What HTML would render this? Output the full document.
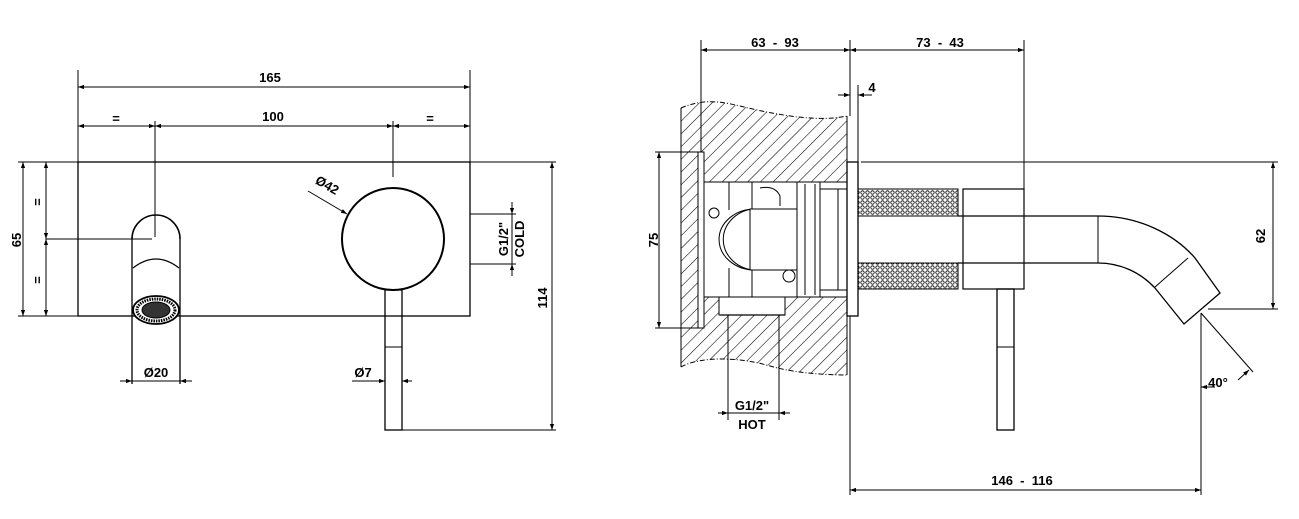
<!DOCTYPE html>
<html><head><meta charset="utf-8"><style>
html,body{margin:0;padding:0;background:#fff}
svg{display:block}
text{font-family:"Liberation Sans",Arial,sans-serif;font-weight:bold;font-size:13px;fill:#000;white-space:pre}
</style></head><body>
<svg width="1299" height="519" viewBox="0 0 1299 519" xmlns="http://www.w3.org/2000/svg">
<defs>
<marker id="a" viewBox="0 0 10 10" refX="10" refY="5" markerWidth="9" markerHeight="6" orient="auto-start-reverse" markerUnits="userSpaceOnUse"><path d="M0,1.5 L10,5 L0,8.5z" fill="#000"/></marker>
<pattern id="h" width="9" height="9" patternUnits="userSpaceOnUse" patternTransform="rotate(45)"><line x1="0" y1="0" x2="0" y2="9" stroke="#000" stroke-width="1.1"/></pattern>
<pattern id="d" width="5" height="5" patternUnits="userSpaceOnUse"><circle cx="2.5" cy="2.5" r="1.7" fill="none" stroke="#000" stroke-width="0.8"/></pattern>
</defs>
<g fill="none" stroke="#000" stroke-width="1">
<!-- LEFT VIEW -->
<line x1="78" y1="70" x2="78" y2="316"/>
<line x1="470" y1="70" x2="470" y2="162"/>
<line x1="78" y1="87" x2="470" y2="87" marker-start="url(#a)" marker-end="url(#a)"/>
<line x1="78" y1="126" x2="155" y2="126" marker-start="url(#a)" marker-end="url(#a)"/>
<line x1="155" y1="126" x2="393" y2="126" marker-start="url(#a)" marker-end="url(#a)"/>
<line x1="393" y1="126" x2="470" y2="126" marker-start="url(#a)" marker-end="url(#a)"/>
<line x1="155" y1="121" x2="155" y2="237"/>
<line x1="393" y1="121" x2="393" y2="177"/>
<rect x="78" y="162" width="392" height="154" stroke-width="1.3"/>
<line x1="18" y1="162" x2="78" y2="162"/>
<line x1="470" y1="162" x2="556" y2="162"/>
<line x1="18" y1="316" x2="78" y2="316"/>
<line x1="23" y1="162" x2="23" y2="316" marker-start="url(#a)" marker-end="url(#a)"/>
<line x1="46" y1="162" x2="46" y2="239" marker-start="url(#a)" marker-end="url(#a)"/>
<line x1="46" y1="239" x2="46" y2="316" marker-start="url(#a)" marker-end="url(#a)"/>
<line x1="46" y1="239" x2="152" y2="239"/>
<!-- spout -->
<path d="M132,239 A24,24 0 0 1 180,239" stroke-width="1.6"/>
<line x1="132" y1="239" x2="132" y2="384" stroke-width="1.3"/>
<line x1="180" y1="239" x2="180" y2="384" stroke-width="1.3"/>
<path d="M133,268 Q156,250 179,268" stroke-width="1.3"/>
<ellipse cx="156" cy="310" rx="23" ry="14" stroke-width="1.8" fill="#fff"/>
<ellipse cx="156" cy="310" rx="19" ry="11" stroke-width="3" stroke-dasharray="1.5 1"/>
<ellipse cx="156" cy="310" rx="14" ry="8" stroke-width="1" fill="#333"/>
<line x1="120" y1="381" x2="132" y2="381" marker-end="url(#a)"/>
<line x1="132" y1="381" x2="180" y2="381"/>
<line x1="192" y1="381" x2="180" y2="381" marker-end="url(#a)"/>
<!-- handle -->
<circle cx="393" cy="239" r="51" stroke-width="2"/>
<line x1="308" y1="191" x2="347" y2="214" marker-end="url(#a)"/>
<rect x="385" y="290" width="17" height="140" stroke-width="1.3"/>
<line x1="385" y1="347" x2="402" y2="347"/>
<line x1="352" y1="381" x2="385" y2="381" marker-end="url(#a)"/>
<line x1="412" y1="381" x2="402" y2="381" marker-end="url(#a)"/>
<line x1="402" y1="430" x2="556" y2="430"/>
<line x1="552" y1="162" x2="552" y2="430" marker-start="url(#a)" marker-end="url(#a)"/>
<line x1="470" y1="214" x2="516" y2="214"/>
<line x1="470" y1="264" x2="516" y2="264"/>
<line x1="512" y1="202" x2="512" y2="214" marker-end="url(#a)"/>
<line x1="512" y1="214" x2="512" y2="264"/>
<line x1="512" y1="276" x2="512" y2="264" marker-end="url(#a)"/>

<!-- RIGHT VIEW -->
<path d="M681,108 C700,100 715,100 740,106 C780,116 820,122 847,116 L847,375 C820,375 790,372 770,366 C740,357 700,356 681,367 Z" fill="url(#h)" stroke="none"/>
<path d="M681,108 C700,100 715,100 740,106 C780,116 820,122 847,116" stroke-dasharray="5 2 1 2"/>
<path d="M681,367 C700,356 740,357 770,366 C790,372 820,375 847,375" stroke-dasharray="5 2 1 2"/>
<line x1="681" y1="108" x2="681" y2="367"/>
<line x1="847" y1="116" x2="847" y2="375"/>
<rect x="698" y="152" width="6" height="176" fill="#fff"/>
<rect x="704" y="182" width="143" height="115" fill="#fff"/>
<rect x="719" y="297" width="66" height="18" fill="#fff"/>
<!-- interior -->
<path d="M704,182 H752 V297 H704"/>
<line x1="729" y1="182" x2="729" y2="210"/>
<line x1="729" y1="268" x2="729" y2="297"/>
<path d="M752,209 A35,31 0 0 0 752,270"/>
<path d="M755,209 A33,28 0 0 0 755,270"/>
<rect x="750" y="209" width="47" height="61" fill="#fff"/>
<circle cx="714" cy="213" r="5"/>
<circle cx="789" cy="276" r="6"/>
<path d="M760,188 Q775,185 780,196 V206"/>
<rect x="797" y="182" width="23" height="115"/>
<line x1="805" y1="184" x2="805" y2="295"/>
<line x1="815" y1="184" x2="815" y2="295"/>
<rect x="820" y="189" width="27" height="101"/>
<line x1="838" y1="189" x2="838" y2="290"/>
<line x1="720" y1="315" x2="785" y2="315" stroke-width="1.3"/>
<!-- plate -->
<rect x="847" y="162" width="11" height="154" fill="#fff" stroke-width="1.3"/>
<!-- knurls -->
<rect x="858" y="189" width="100" height="27" fill="url(#d)" stroke-width="1"/>
<rect x="858" y="263" width="100" height="26" fill="url(#d)" stroke-width="1"/>
<rect x="963" y="189" width="61" height="100" stroke-width="1.2"/>
<line x1="958" y1="216" x2="1098" y2="216" stroke-width="1.2"/>
<line x1="958" y1="263" x2="1098" y2="263" stroke-width="1.2"/>
<line x1="1098" y1="216" x2="1098" y2="263"/>
<path d="M1098,216 C1140,216 1175,235 1195,258 L1220,293 L1184,324 L1155,288 C1140,272 1120,263 1098,263" stroke-width="1.3"/>
<line x1="1188" y1="258" x2="1155" y2="287"/>
<!-- lever -->
<rect x="997" y="289" width="17" height="141" stroke-width="1.3"/>
<line x1="997" y1="347" x2="1014" y2="347"/>
<!-- dims -->
<line x1="701" y1="40" x2="701" y2="152"/>
<line x1="850" y1="40" x2="850" y2="116"/>
<line x1="850" y1="316" x2="850" y2="495"/>
<line x1="1024" y1="40" x2="1024" y2="189"/>
<line x1="701" y1="50" x2="850" y2="50" marker-start="url(#a)" marker-end="url(#a)"/>
<line x1="850" y1="50" x2="1024" y2="50" marker-start="url(#a)" marker-end="url(#a)"/>
<line x1="858" y1="85" x2="858" y2="162"/>
<line x1="838" y1="95" x2="850" y2="95" marker-end="url(#a)"/>
<line x1="872" y1="95" x2="858" y2="95" marker-end="url(#a)"/>
<line x1="655" y1="152" x2="704" y2="152"/>
<line x1="655" y1="328" x2="704" y2="328"/>
<line x1="659" y1="152" x2="659" y2="328" marker-start="url(#a)" marker-end="url(#a)"/>
<line x1="728" y1="315" x2="728" y2="420"/>
<line x1="779" y1="315" x2="779" y2="420"/>
<line x1="718" y1="413" x2="728" y2="413" marker-end="url(#a)"/>
<line x1="728" y1="413" x2="779" y2="413"/>
<line x1="790" y1="413" x2="779" y2="413" marker-end="url(#a)"/>
<line x1="861" y1="162" x2="1278" y2="162"/>
<line x1="1208" y1="309" x2="1278" y2="309"/>
<line x1="1273" y1="162" x2="1273" y2="309" marker-start="url(#a)" marker-end="url(#a)"/>
<line x1="1201" y1="313" x2="1201" y2="495"/>
<line x1="1201" y1="313" x2="1253" y2="372"/>
<line x1="1215" y1="387" x2="1201" y2="387" marker-end="url(#a)"/>
<line x1="1238" y1="380" x2="1249" y2="370" marker-end="url(#a)"/>
<line x1="850" y1="490" x2="1201" y2="490" marker-start="url(#a)" marker-end="url(#a)"/>
</g>
<!-- texts -->
<text x="270" y="82" text-anchor="middle">165</text>
<text x="273" y="121" text-anchor="middle">100</text>
<text x="116" y="123" text-anchor="middle" font-size="8">=</text>
<text x="430" y="123" text-anchor="middle" font-size="8">=</text>
<text transform="translate(21,240) rotate(-90)" text-anchor="middle">65</text>
<text transform="translate(42,202) rotate(-90)" text-anchor="middle" font-size="8">=</text>
<text transform="translate(42,280) rotate(-90)" text-anchor="middle" font-size="8">=</text>
<text x="156" y="377" text-anchor="middle">Ø20</text>
<text transform="translate(325,189) rotate(30)" text-anchor="middle">Ø42</text>
<text x="363" y="377" text-anchor="middle">Ø7</text>
<text transform="translate(547,298) rotate(-90)" text-anchor="middle">114</text>
<text transform="translate(508,239) rotate(-90)" text-anchor="middle" font-size="12">G1/2"</text>
<text transform="translate(524,239) rotate(-90)" text-anchor="middle" font-size="12">COLD</text>
<text x="775" y="47" text-anchor="middle">63  -  93</text>
<text x="940" y="47" text-anchor="middle">73  -  43</text>
<text x="872" y="92" text-anchor="middle">4</text>
<text transform="translate(658,240) rotate(-90)" text-anchor="middle">75</text>
<text x="752" y="410" text-anchor="middle" font-size="12">G1/2"</text>
<text x="752" y="429" text-anchor="middle" font-size="12">HOT</text>
<text transform="translate(1265,236) rotate(-90)" text-anchor="middle">62</text>
<text x="1218" y="387" text-anchor="middle" font-size="12">40°</text>
<text x="1022" y="485" text-anchor="middle">146  -  116</text>
</svg>
</body></html>
